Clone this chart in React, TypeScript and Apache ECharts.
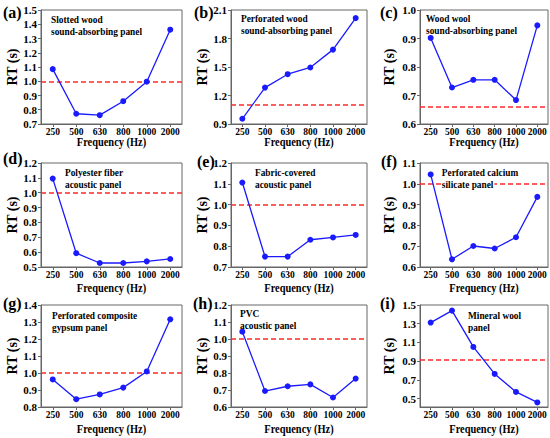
import React, { useEffect, useRef } from "react";
import * as echarts from "echarts";

const categories = ["250", "500", "630", "800", "1000", "2000"];

const valuesA = [1.085, 0.772, 0.762, 0.86, 0.997, 1.362];
const valuesB = [0.955, 1.283, 1.424, 1.495, 1.683, 2.015];
const valuesC = [0.902, 0.728, 0.755, 0.755, 0.684, 0.946];
const valuesD = [1.095, 0.593, 0.527, 0.527, 0.538, 0.554];
const valuesE = [1.106, 0.75, 0.75, 0.831, 0.842, 0.854];
const valuesF = [1.045, 0.637, 0.701, 0.689, 0.743, 0.937];
const valuesG = [0.962, 0.846, 0.874, 0.914, 1.009, 1.316];
const valuesH = [1.043, 0.694, 0.722, 0.733, 0.656, 0.767];
const valuesI = [1.312, 1.44, 1.052, 0.763, 0.571, 0.459];

const seriesValues = [valuesA, valuesB, valuesC, valuesD, valuesE, valuesF, valuesG, valuesH, valuesI];
const referenceLines = [1.0, 1.1, 0.663, 1.0, 1.0, 1.0, 1.0, 1.0, 0.905];

const panelLetters = ["(a)", "(b)", "(c)", "(d)", "(e)", "(f)", "(g)", "(h)", "(i)"];
const panelNames = [
  ["Slotted wood", "sound-absorbing panel"],
  ["Perforated wood", "sound-absorbing panel"],
  ["Wood wool", "sound-absorbing panel"],
  ["Polyester fiber", "acoustic panel"],
  ["Fabric-covered", "acoustic panel"],
  ["Perforated calcium", "silicate panel"],
  ["Perforated composite", "gypsum panel"],
  ["PVC", "acoustic panel"],
  ["Mineral wool", "panel"],
];

const yMins = [0.7, 0.9, 0.6, 0.5, 0.7, 0.6, 0.8, 0.6, 0.41];
const yMaxs = [1.5, 2.1, 1.0, 1.2, 1.2, 1.1, 1.4, 1.2, 1.5];
const yIntervals = [0.1, 0.3, 0.1, 0.1, 0.1, 0.1, 0.1, 0.1, 0.2];
const yTickValuesI = [0.5, 0.7, 0.9, 1.1, 1.3, 1.5];

const xAxisTitle = "Frequency (Hz)";
const yAxisTitle = "RT (s)";

const FONT = "Liberation Serif";

export default function App() {
  const ref = useRef<HTMLDivElement>(null);

  useEffect(() => {
    if (!ref.current) return;
    const chart = echarts.init(ref.current, undefined, { renderer: "svg" });

    const colLeft = [41, 231, 420];
    const colRight = [182, 367, 548];
    const rowTop = [10, 163, 305];
    const rowBottom = [124, 267, 407];
    const nameGaps = [21, 22, 24];
    const xNameY = [142, 288, 429];
    const letterPos = [
      [3, 12], [194, 12], [380, 12],
      [3, 158], [197, 161], [381, 161],
      [3, 303], [193, 303], [380, 303],
    ];
    const notePos = [
      [51, 19], [241, 18], [426, 18],
      [65, 172], [255, 172], [441, 172],
      [52, 315], [240, 313], [468, 315],
    ];

    const grids: any[] = [];
    const xAxes: any[] = [];
    const yAxes: any[] = [];
    const series: any[] = [];
    const graphics: any[] = [];

    for (let i = 0; i < 9; i++) {
      const r = Math.floor(i / 3);
      const c = i % 3;
      grids.push({
        left: colLeft[c],
        top: rowTop[r],
        width: colRight[c] - colLeft[c],
        height: rowBottom[r] - rowTop[r],
        show: true,
        borderColor: "#666",
        borderWidth: 1,
        backgroundColor: "transparent",
        containLabel: false,
        outerBoundsMode: "none",
      });
      xAxes.push({
        gridIndex: i,
        type: "category",
        data: categories,
        boundaryGap: true,
        axisLine: { show: true, lineStyle: { color: "#666", width: 1 } },
        axisTick: { show: true, alignWithLabel: true, length: 3, lineStyle: { color: "#666" } },
        axisLabel: {
          color: "#000",
          fontWeight: "bold",
          fontSize: 9.5,
          fontFamily: FONT,
          margin: 3,
          interval: 0,
        },
        splitLine: { show: false },
      });
      const y: any = {
        gridIndex: i,
        type: "value",
        min: yMins[i],
        max: yMaxs[i],
        axisLine: { show: true, lineStyle: { color: "#666", width: 1 } },
        axisTick: { show: true, length: 3, lineStyle: { color: "#666" } },
        axisLabel: {
          color: "#000",
          fontWeight: "bold",
          fontSize: 11,
          fontFamily: FONT,
          margin: 4,
          formatter: (v: number) => v.toFixed(1),
        },
        splitLine: { show: false },
        name: yAxisTitle,
        nameLocation: "middle",
        nameRotate: 90,
        nameGap: nameGaps[c],
        nameTextStyle: { fontSize: 14, fontWeight: "bold", color: "#000", fontFamily: FONT },
      };
      if (i === 8) {
        y.axisLabel.customValues = yTickValuesI;
        y.axisTick.customValues = yTickValuesI;
      } else {
        y.interval = yIntervals[i];
      }
      yAxes.push(y);

      series.push({
        type: "line",
        xAxisIndex: i,
        yAxisIndex: i,
        data: seriesValues[i],
        symbol: "circle",
        symbolSize: 6,
        itemStyle: { color: "#1a1aff" },
        lineStyle: { color: "#1a1aff", width: 1.3 },
        z: 3,
        markLine: {
          silent: true,
          symbol: ["none", "none"],
          label: { show: false },
          lineStyle: { color: "#ff2a2a", type: [5, 3], width: 1.5 },
          data: [{ yAxis: referenceLines[i] }],
          z: 2,
        },
      });

      graphics.push({
        type: "text",
        x: letterPos[i][0],
        y: letterPos[i][1],
        z: 100,
        style: {
          text: panelLetters[i],
          fontSize: 16,
          fontWeight: "bold",
          fontFamily: FONT,
          fill: "#000",
          align: "left",
          verticalAlign: "middle",
          textAlign: "left",
          textVerticalAlign: "middle",
        },
      });
      panelNames[i].forEach((line, k) => {
        graphics.push({
          type: "text",
          x: notePos[i][0],
          y: notePos[i][1] + k * 12.5,
          z: 100,
          scaleX: 0.85,
          style: {
            text: line,
            fontSize: 11,
            fontWeight: "bold",
            fontFamily: FONT,
            fill: "#000",
            align: "left",
            verticalAlign: "middle",
            textAlign: "left",
            textVerticalAlign: "middle",
            backgroundColor: i === 5 ? "#fff" : undefined,
            padding: i === 5 ? [0, 1] : 0,
          },
        });
      });
      graphics.push({
        type: "text",
        x: (colLeft[c] + colRight[c]) / 2,
        y: xNameY[r],
        z: 100,
        scaleX: 0.8,
        style: {
          text: xAxisTitle,
          fontSize: 13,
          fontWeight: "bold",
          fontFamily: FONT,
          fill: "#000",
          align: "center",
          verticalAlign: "middle",
          textAlign: "center",
          textVerticalAlign: "middle",
        },
      });
    }

    chart.setOption({
      animation: false,
      backgroundColor: "#fff",
      grid: grids,
      xAxis: xAxes,
      yAxis: yAxes,
      series,
      graphic: graphics,
    });

    return () => chart.dispose();
  }, []);

  return (
    <div
      ref={ref}
      style={{ position: "absolute", left: 0, top: 0, width: 550, height: 438 }}
    />
  );
}
